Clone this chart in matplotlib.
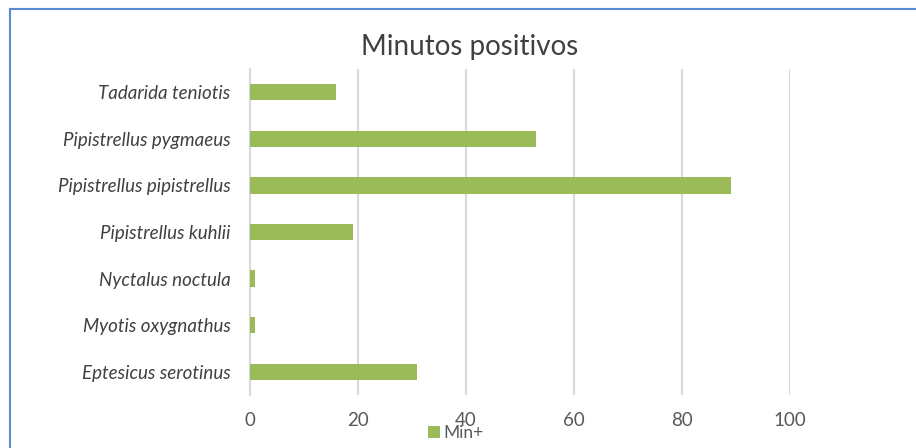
import matplotlib
matplotlib.use('Agg')
import matplotlib.pyplot as plt
from matplotlib.lines import Line2D

species = ['Eptesicus serotinus', 'Myotis oxygnathus', 'Nyctalus noctula',
           'Pipistrellus kuhlii', 'Pipistrellus pipistrellus',
           'Pipistrellus pygmaeus', 'Tadarida teniotis']
min_pos = [31, 1, 1, 19, 89, 53, 16]
x_ticks = [0, 20, 40, 60, 80, 100]

plt.rcParams['font.family'] = ['Lato', 'DejaVu Sans']

W, H = 916, 448
fig = plt.figure(figsize=(W / 100, H / 100), dpi=100)
ax = fig.add_axes([250 / W, 1 - 395 / H, 540 / W, 326 / H])

ax.barh(range(len(species)), min_pos, height=0.35, color='#9BBB59', label='Min+', zorder=3)
ax.set_xlim(0, 100)
ax.set_ylim(-0.5, len(species) - 0.5)
ax.set_xticks(x_ticks)
ax.set_yticks(range(len(species)))
ax.set_yticklabels(species, fontstyle='italic', fontsize=13.5, color='#404040')
ax.tick_params(axis='x', labelsize=13.5, labelcolor='#595959', length=0, pad=12)
ax.tick_params(axis='y', length=0, pad=14)
ax.grid(axis='x', color='#D9D9D9', linewidth=1.5, zorder=0)
for s in ['top', 'right', 'bottom']:
    ax.spines[s].set_visible(False)
ax.spines['left'].set_color('#D9D9D9')
ax.spines['left'].set_linewidth(1.5)

fig.text(470 / W, 1 - 47 / H, 'Minutos positivos', ha='center', va='center',
         fontsize=20, color='#404040')

leg = ax.legend(loc='center left', bbox_to_anchor=(428 / W, 1 - 433 / H),
                bbox_transform=fig.transFigure, frameon=False, fontsize=12.5,
                handlelength=0.7, handleheight=0.7, handletextpad=0.2,
                borderpad=0, borderaxespad=0)
for t in leg.get_texts():
    t.set_color('#595959')

# chart frame (cropped on the right and bottom)
fig.add_artist(Line2D([10 / W, 10 / W], [0, 1 - 9 / H], transform=fig.transFigure,
                      color='#5B8BD0', linewidth=1.5))
fig.add_artist(Line2D([10 / W, 1], [1 - 9 / H, 1 - 9 / H], transform=fig.transFigure,
                      color='#5B8BD0', linewidth=1.5))

fig.savefig('out.png', dpi=100)
